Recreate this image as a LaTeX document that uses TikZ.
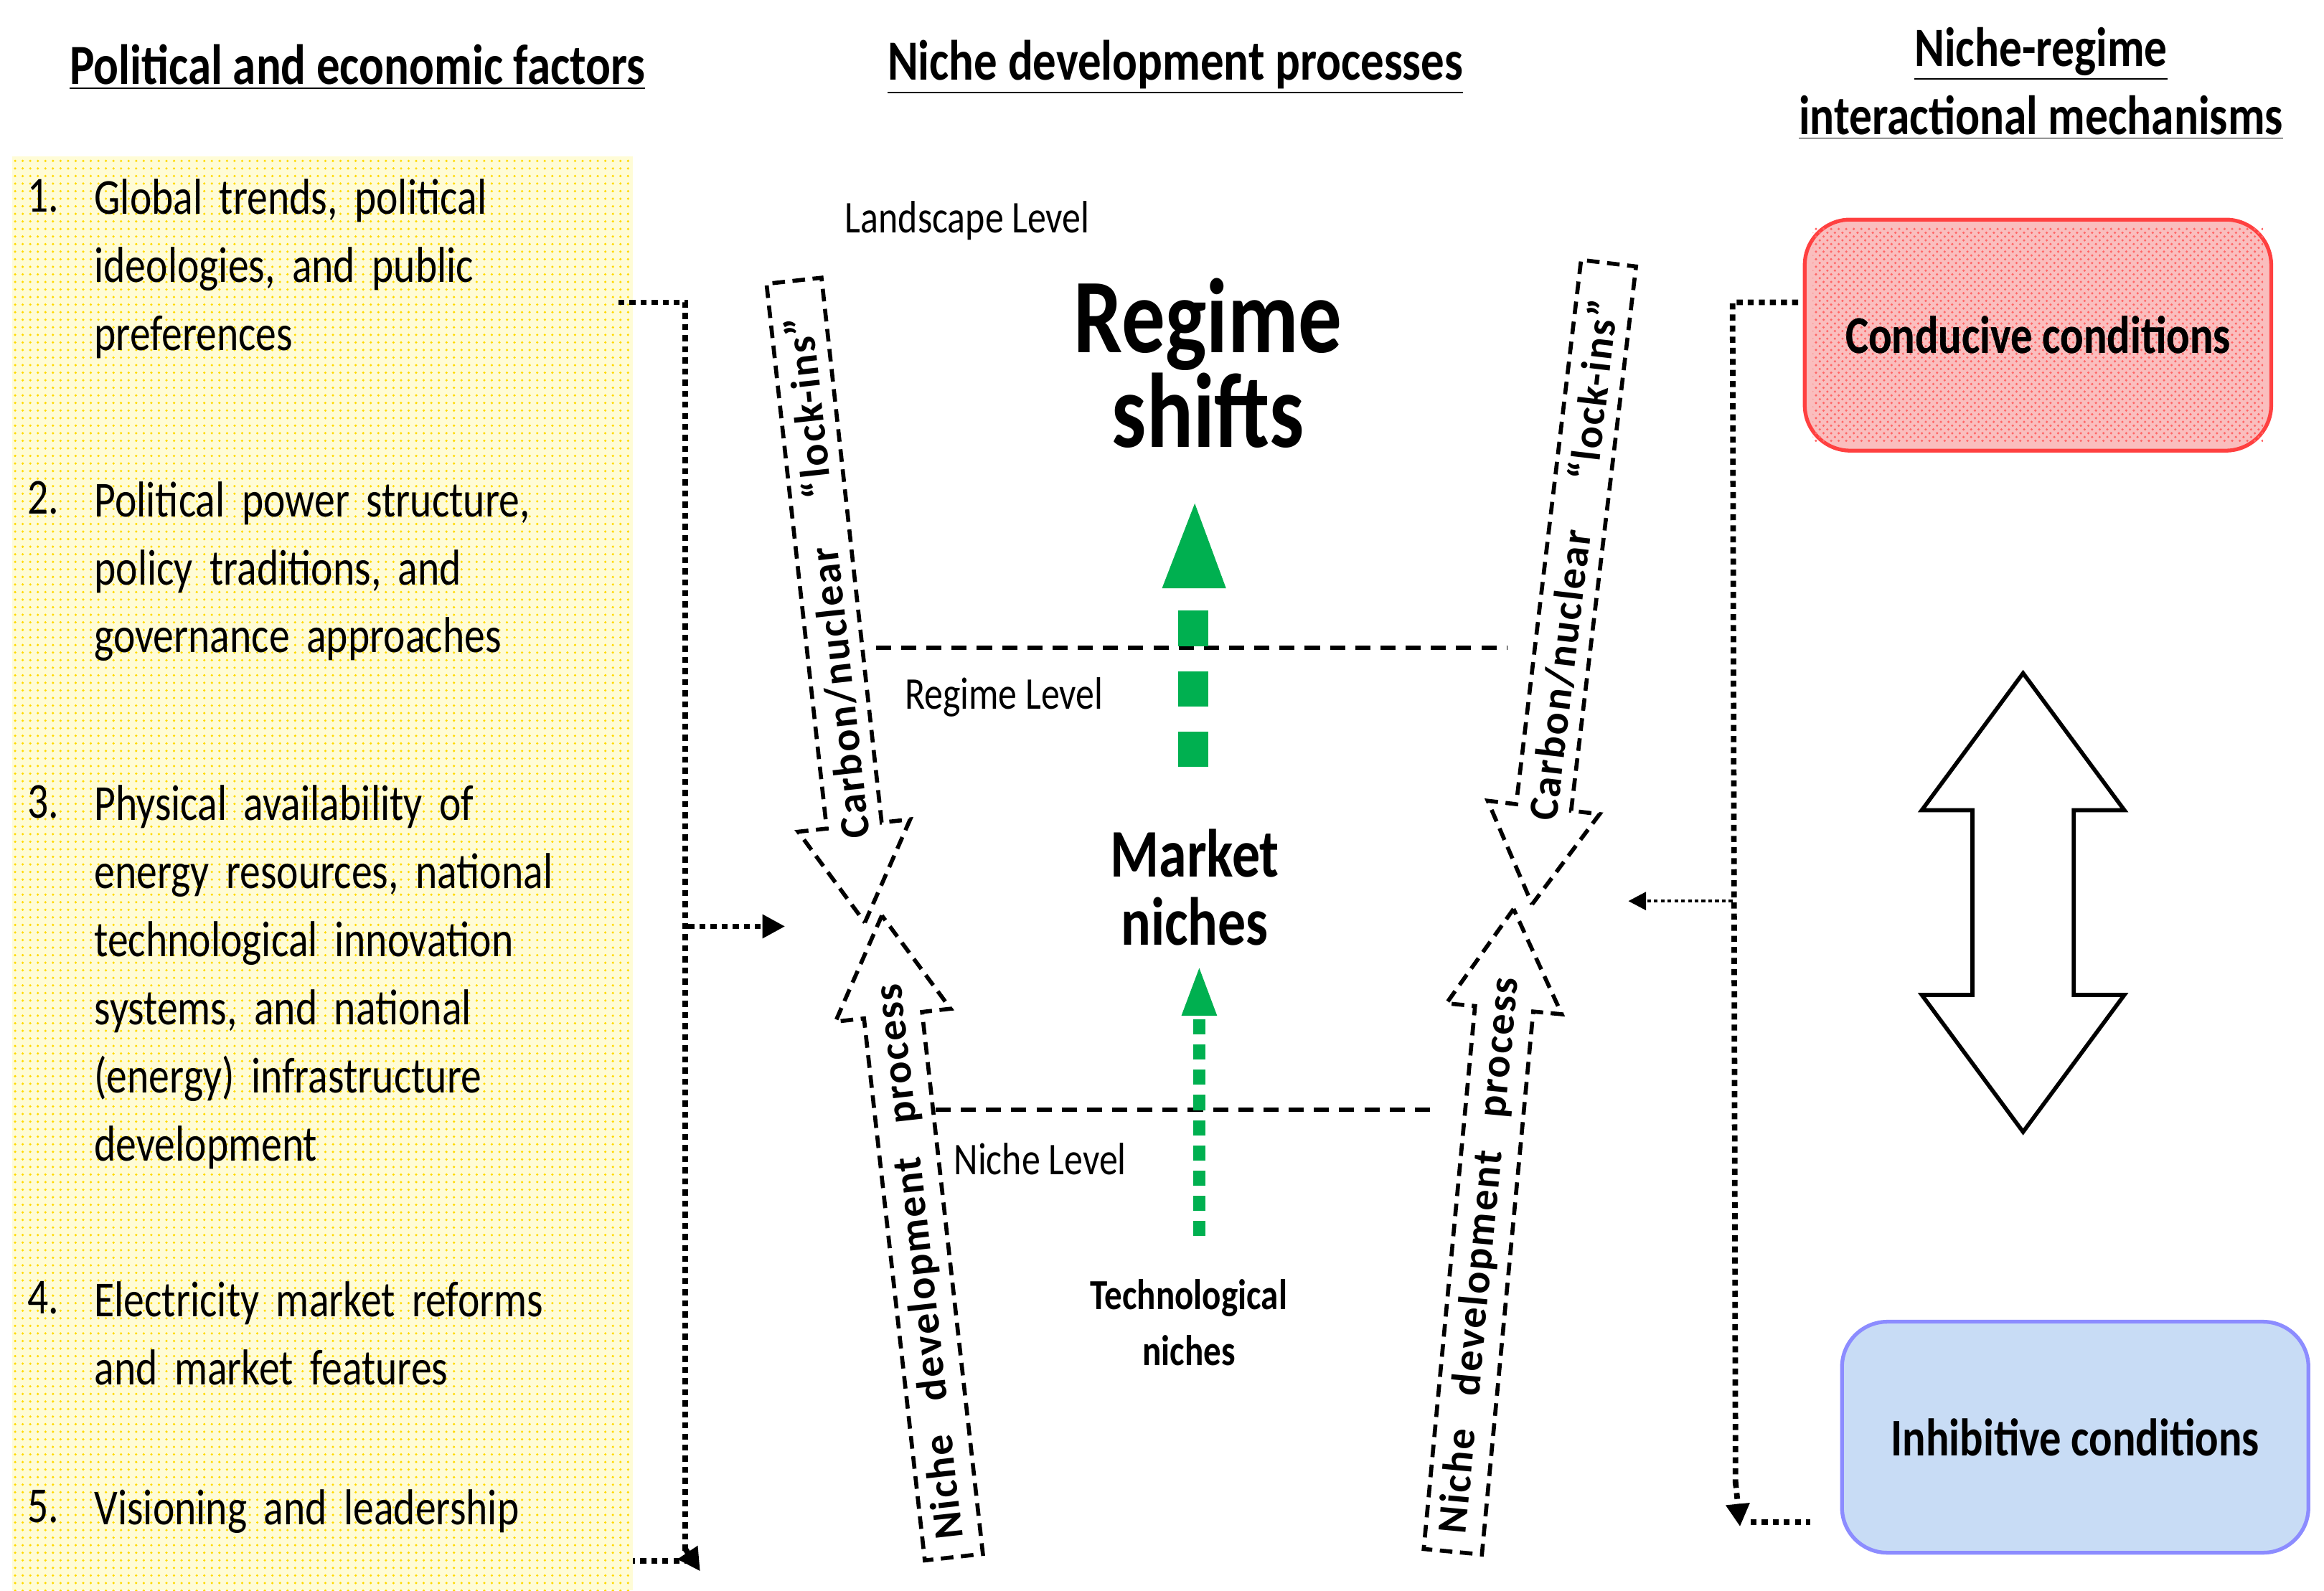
\documentclass[tikz,border=0pt]{standalone}
\usepackage{fontspec}
\setmainfont{Carlito}[FakeStretch=0.82]
\newfontfamily\arrfont{Carlito}[FakeStretch=1.0,LetterSpace=4]
\usetikzlibrary{shapes.arrows,arrows.meta,patterns}
\definecolor{grn}{RGB}{0,176,80}
\definecolor{ylw}{RGB}{255,252,214}
\definecolor{rbox}{RGB}{250,190,190}
\definecolor{bbox}{RGB}{200,220,245}
\tikzset{
 head/.style={font=\fontsize{22.5}{26}\selectfont\bfseries},
 item/.style={anchor=north west,align=left,text width=80mm,inner sep=0,font=\fontsize{20}{27}\selectfont},
 num/.style={anchor=north west,inner sep=0,font=\fontsize{20}{27}\selectfont},
 lvl/.style={font=\fontsize{18}{22}\selectfont,anchor=west,inner sep=0},
 fat/.style={single arrow,draw,dashed,dash pattern=on 5pt off 3pt,line width=1.6pt,minimum height=90mm,
   single arrow head extend=4mm,single arrow tip angle=60,inner ysep=1.3mm,inner xsep=0,
   font=\arrfont\fontsize{16.5}{16.5}\selectfont\bfseries},
 dot/.style={line width=2.2pt,dash pattern=on 2.4pt off 2pt},
 lv/.style={line width=1.8pt,dash pattern=on 6pt off 4pt},
 cond/.style={line width=1.5pt,rounded corners=18pt,minimum width=65mm,minimum height=32.2mm,
  font=\fontsize{21}{25}\selectfont\bfseries},
}
\begin{document}
\begin{tikzpicture}[x=0.2076mm,y=-0.2076mm]
\useasboundingbox (0,0) rectangle (1560,1068);
\fill[ylw] (8,105) rectangle (425,1068);
\fill[pattern=dots,pattern color=yellow!70!orange] (8,105) rectangle (425,1068);
% headings
\node[head] (h1) at (240,45) {\underline{Political and economic factors}};
\node[head] (h2) at (789,45) {\underline{Niche development processes}};
\node[head,align=center,font=\fontsize{22}{27}\selectfont\bfseries] (h3) at (1370,56) {\underline{Niche-regime}\\\underline{interactional mechanisms}};
% list
\foreach \n/\y in {1/120,2/323,3/527,4/860,5/1000}{\node[num] (n\n) at (18,\y) {\n.};}
\node[item] (i1) at (63,120) {Global trends, political\\ideologies, and public\\preferences};
\node[item] (i2) at (63,323) {Political power structure,\\policy traditions, and\\governance approaches};
\node[item] (i3) at (63,527) {Physical availability of\\energy resources, national\\technological innovation\\systems, and national\\(energy) infrastructure\\development};
\node[item] (i4) at (63,860) {Electricity market reforms\\and market features};
\node[item] (i5) at (63,1000) {Visioning and leadership};
% levels
\node[lvl] (ll) at (567,148) {Landscape Level};
\node[lvl] (rl) at (607,468) {Regime Level};
\node[lvl] (nl) at (640,778) {Niche Level};
\draw[lv] (588,435) -- (1012,435);
\draw[lv] (628,745) -- (965,745);
% central texts
\node[align=center,font=\fontsize{42}{36}\selectfont\bfseries] (rs) at (811,244) {Regime\\shifts};
\node[align=center,font=\fontsize{27}{27}\selectfont\bfseries] (mn) at (802,596) {Market\\niches};
\node[align=center,font=\fontsize{17}{22}\selectfont\bfseries] (tn) at (798,888) {Technological\\niches};
% green arrows
\coordinate (g1s) at (801,515); \coordinate (g1e) at (801,395);
\coordinate (g2s) at (805,830); \coordinate (g2e) at (805,682);
\draw[grn,line width=12pt,dash pattern=on 14pt off 10pt] (g1s) -- (g1e);
\fill[grn] (780,395) -- (823,395) -- (802,338) -- cycle;
\draw[grn,line width=5pt,dash pattern=on 6pt off 4pt] (g2s) -- (g2e);
\fill[grn] (793,682) -- (817,682) -- (805,650) -- cycle;
% fat arrows
\node[fat,rotate=96.3,shape border rotate=180] (a1) at (555,388) {Carbon/nuclear\hspace{1.2em}“lock-ins”};
\node[fat,rotate=83.2,shape border rotate=180] (a2) at (1056,376) {Carbon/nuclear\hspace{1.2em}“lock-ins”};
\node[fat,rotate=96.4] (a3) at (618,847) {Niche\hspace{0.8em}development\hspace{0.8em}process};
\node[fat,rotate=84.6] (a4) at (994,843) {Niche\hspace{0.8em}development\hspace{0.8em}process};
% right boxes
\node[cond,draw=red!75,fill=rbox] (cc) at (1368,225) {Conducive conditions};
\fill[pattern=crosshatch dots,pattern color=red!60] ([xshift=4pt,yshift=-4pt]cc.north west) rectangle ([xshift=-4pt,yshift=4pt]cc.south east);
\node[font=\fontsize{21}{25}\selectfont\bfseries] at (cc) {Conducive conditions};
\node[cond,draw=blue!45,fill=bbox] (ic) at (1393,965) {Inhibitive conditions};
% double arrow
\draw[line width=1.6pt,fill=white] (1358,452) -- (1426,544) -- (1392,544) -- (1392,668) -- (1426,668) -- (1358,760)
  -- (1290,668) -- (1324,668) -- (1324,544) -- (1290,544) -- cycle;
% left connectors
\coordinate (l1) at (415,203); \coordinate (l2) at (460,203); \coordinate (l3) at (470,1055);
\coordinate (l4) at (425,1048); \coordinate (l5) at (462,622); \coordinate (l6) at (527,622);
\draw[dot] (l1) -- (l2) -- (460,1048) -- (l4);
\draw[dot,-{Triangle[length=9pt,width=9pt]}] (460,1040) -- (l3);
\draw[dot,-{Triangle[length=9pt,width=9pt]}] (l5) -- (l6);
% right connectors
\coordinate (r1) at (1207,203); \coordinate (r2) at (1163,203); \coordinate (r3) at (1168,1025);
\coordinate (r4) at (1215,1022); \coordinate (r5) at (1163,605); \coordinate (r6) at (1093,605);
\draw[dot] (r1) -- (r2) -- (1165,1000);
\draw[dot,-{Triangle[length=9pt,width=9pt]}] (1165,995) -- (r3);
\draw[dot] (1175,1022) -- (r4);
\draw[line width=1.2pt,dash pattern=on 1.5pt off 1.2pt,-{Triangle[length=7pt,width=7pt]}] (r5) -- (r6);
\end{tikzpicture}
\end{document}
